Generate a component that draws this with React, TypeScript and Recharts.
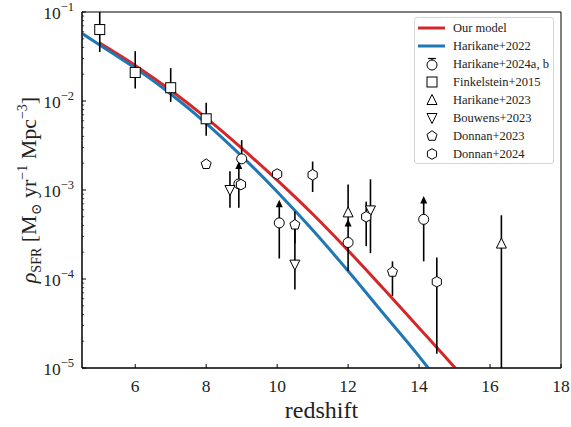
import React from "react";
import {
  ComposedChart,
  Line,
  Scatter,
  XAxis,
  YAxis,
  ErrorBar,
  Legend,
  ReferenceArea,
} from "recharts";

const FONT = '"Liberation Serif", "DejaVu Serif", serif';
const RED = "#d62728";
const BLUE = "#1f77b4";

// model curves (redshift, SFR density)
const MODEL_Z = [5, 6, 7, 8, 9, 10, 11, 12, 13, 14, 15, 15.2];
const MODEL_SFRD = [4.47e-2, 2.51e-2, 1.32e-2, 6.46e-3, 2.95e-3, 1.29e-3, 5.37e-4, 2.09e-4, 7.76e-5, 2.82e-5, 1.02e-5, 8.3e-6];
const H22_Z = [4.5, 5, 6, 7, 8, 9, 10, 11, 12, 13, 14, 14.4];
const H22_SFRD = [5.75e-2, 4.27e-2, 2.34e-2, 1.2e-2, 5.62e-3, 2.4e-3, 9.55e-4, 3.55e-4, 1.23e-4, 4.07e-5, 1.35e-5, 8.5e-6];

// observations: value, lower end, upper end of the error bar
const H24_Z = [9.0, 8.92, 10.06, 12.0, 14.13];
const H24_V = [2.24e-3, 1.17e-3, 4.27e-4, 2.57e-4, 4.68e-4];
const H24_LO = [2.24e-3, 6.3e-4, 1.7e-4, 1.23e-4, 1.58e-4];
const H24_HI = [3.63e-3, 1.86e-3, 6.9e-4, 4.2e-4, 7.6e-4];
const H24_LOLIM = [false, true, true, true, true];

const F15_Z = [5, 6, 7, 8];
const F15_V = [6.35e-2, 2.09e-2, 1.41e-2, 6.31e-3];
const F15_LO = [3.55e-2, 1.38e-2, 9.77e-3, 4.07e-3];
const F15_HI = [0.1, 3.63e-2, 2.34e-2, 9.55e-3];

const H23_Z = [12.0, 16.32];
const H23_V = [5.6e-4, 2.5e-4];
const H23_LO = [3.9e-4, 1e-5];
const H23_HI = [1.15e-3, 5.2e-4];

const B23_Z = [8.67, 10.5, 12.63];
const B23_V = [1.0e-3, 1.45e-4, 5.9e-4];
const B23_LO = [6.3e-4, 7.6e-5, 1.95e-4];
const B23_HI = [1.62e-3, 4.07e-4, 1.32e-3];

const D23_Z = [8.0, 10.5, 13.25];
const D23_V = [1.95e-3, 4.07e-4, 1.2e-4];
const D23_LO = [1.95e-3, 2.5e-4, 6.46e-5];
const D23_HI = [1.95e-3, 5.75e-4, 1.58e-4];

const D24_Z = [8.98, 10.0, 11.0, 12.51, 14.5];
const D24_V = [1.15e-3, 1.51e-3, 1.48e-3, 5.0e-4, 9.3e-5];
const D24_LO = [1.15e-3, 1.51e-3, 9.5e-4, 2.34e-4, 1.45e-5];
const D24_HI = [1.15e-3, 1.51e-3, 2.09e-3, 7.4e-4, 1.74e-4];

const X_TICKS = [6, 8, 10, 12, 14, 16, 18];
const Y_MAJOR = [1e-5, 1e-4, 1e-3, 1e-2, 1e-1];
const Y_MINOR_MULT = [2, 3, 4, 5, 6, 7, 8, 9];
const Y_TICKS = [
  ...Y_MAJOR,
  ...Y_MAJOR.slice(0, -1).flatMap((m) => Y_MINOR_MULT.map((k) => k * m)),
];

const LEGEND = [
  { name: "Our model", kind: "line", color: RED },
  { name: "Harikane+2022", kind: "line", color: BLUE },
  { name: "Harikane+2024a, b", kind: "circleLim" },
  { name: "Finkelstein+2015", kind: "square" },
  { name: "Harikane+2023", kind: "triUp" },
  { name: "Bouwens+2023", kind: "triDown" },
  { name: "Donnan+2023", kind: "pentagon" },
  { name: "Donnan+2024", kind: "hexagon" },
];

const toLine = (zs: number[], vs: number[]) => zs.map((z, i) => ({ z, v: vs[i] }));
const toPoints = (zs: number[], vs: number[], lo: number[], hi: number[]) =>
  zs.map((z, i) => ({ z, v: vs[i], err: [vs[i] - lo[i], hi[i] - vs[i]] }));

const modelData = toLine(MODEL_Z, MODEL_SFRD);
const h22Data = toLine(H22_Z, H22_SFRD);
const h24Data = toPoints(H24_Z, H24_V, H24_LO, H24_HI);
const f15Data = toPoints(F15_Z, F15_V, F15_LO, F15_HI);
const h23Data = toPoints(H23_Z, H23_V, H23_LO, H23_HI);
const b23Data = toPoints(B23_Z, B23_V, B23_LO, B23_HI);
const d23Data = toPoints(D23_Z, D23_V, D23_LO, D23_HI);
const d24Data = toPoints(D24_Z, D24_V, D24_LO, D24_HI);
const arrowData = H24_Z.map((z, i) => ({ z, v: H24_HI[i] })).filter((_, i) => H24_LOLIM[i]);

const poly = (cx: number, cy: number, r: number, n: number) =>
  Array.from({ length: n }, (_, k) => {
    const a = (2 * Math.PI * k) / n;
    return `${cx + r * Math.sin(a)},${cy - r * Math.cos(a)}`;
  }).join(" ");

function Marker({ kind, cx, cy }: { kind: string; cx: number; cy: number }) {
  const s = { fill: "#fff", stroke: "#000", strokeWidth: 1 };
  switch (kind) {
    case "circle":
      return <circle cx={cx} cy={cy} r={5} {...s} />;
    case "square":
      return <rect x={cx - 5} y={cy - 5} width={10} height={10} {...s} />;
    case "triUp":
      return <polygon points={`${cx},${cy - 5.5} ${cx + 5},${cy + 4.5} ${cx - 5},${cy + 4.5}`} {...s} />;
    case "triDown":
      return <polygon points={`${cx},${cy + 5.5} ${cx + 5},${cy - 4.5} ${cx - 5},${cy - 4.5}`} {...s} />;
    case "pentagon":
      return <polygon points={poly(cx, cy, 5.3, 5)} {...s} />;
    case "hexagon":
      return <polygon points={poly(cx, cy, 5.3, 6)} {...s} />;
    case "arrow":
      return <polygon points={`${cx},${cy - 4.5} ${cx + 3.5},${cy + 3} ${cx - 3.5},${cy + 3}`} fill="#000" />;
    default:
      return null;
  }
}

const shapeOf = (kind: string) => (p: any) => <Marker kind={kind} cx={p.cx} cy={p.cy} />;

function XTick(props: any) {
  const { x, y, payload } = props;
  return (
    <g>
      <line x1={x} x2={x} y1={y} y2={y - 4} stroke="#000" strokeWidth={1} />
      <text x={x} y={y + 24} textAnchor="middle" fontFamily={FONT} fontSize={17.5} fill="#222">
        {payload.value}
      </text>
    </g>
  );
}

function YTick(props: any) {
  const { x, y, payload } = props;
  const lg = Math.log10(payload.value);
  const exp = Math.round(lg);
  const major = Math.abs(lg - exp) < 1e-6;
  return (
    <g>
      <line x1={x} x2={x + (major ? 4 : 2.2)} y1={y} y2={y} stroke="#000" strokeWidth={major ? 1 : 0.7} />
      {major && (
        <text x={x - 8} y={y + 7} textAnchor="end" fontFamily={FONT} fontSize={17.5} fill="#222">
          <tspan>10</tspan>
          <tspan dy={-8} fontSize={12.5}>{`\u2212${-exp}`}</tspan>
        </text>
      )}
    </g>
  );
}

function XLabel(props: any) {
  const vb = props.viewBox || { x: 82, y: 368, width: 479, height: 59 };
  return (
    <text x={vb.x + vb.width / 2} y={vb.y + 50} textAnchor="middle" fontFamily={FONT} fontSize={24} fill="#222">
      redshift
    </text>
  );
}

function YLabel(props: any) {
  const vb = props.viewBox || { x: 0, y: 12, width: 82, height: 356 };
  const cy = vb.y + vb.height / 2;
  return (
    <text
      transform={`rotate(-90)`}
      x={-cy}
      y={36}
      textAnchor="middle"
      fontFamily={FONT}
      fontSize={22}
      fill="#222"
    >
      <tspan fontStyle="italic">ρ</tspan>
      <tspan fontSize={14} dy={5}>SFR</tspan>
      <tspan dy={-5}>{" [M"}</tspan>
      <tspan fontSize={14} dy={5}>⊙</tspan>
      <tspan dy={-5}>{" yr"}</tspan>
      <tspan fontSize={14} dy={-9}>{"\u22121"}</tspan>
      <tspan dy={9}>{" Mpc"}</tspan>
      <tspan fontSize={14} dy={-9}>{"\u22123"}</tspan>
      <tspan dy={9}>]</tspan>
    </text>
  );
}

function LegendIcon({ kind, color }: { kind: string; color?: string }) {
  return (
    <svg width={34} height={18} style={{ display: "block" }}>
      {kind === "line" && <line x1={3} x2={30} y1={9} y2={9} stroke={color} strokeWidth={3} />}
      {kind === "circleLim" && (
        <g>
          <line x1={13} x2={21} y1={3.5} y2={3.5} stroke="#000" strokeWidth={1.2} />
          <line x1={17} x2={17} y1={3.5} y2={14.5} stroke="#000" strokeWidth={1.2} />
          <Marker kind="circle" cx={17} cy={10} />
        </g>
      )}
      {kind !== "line" && kind !== "circleLim" && <Marker kind={kind} cx={17} cy={9} />}
    </svg>
  );
}

function LegendBox() {
  return (
    <div
      style={{
        border: "1px solid #d5d5d5",
        borderRadius: 3,
        background: "rgba(255,255,255,0.8)",
        padding: "1px 0 0 0",
        width: 140,
        height: 147,
        boxSizing: "border-box",
      }}
    >
      {LEGEND.map((item) => (
        <div key={item.name} style={{ display: "flex", alignItems: "center", height: 18 }}>
          <LegendIcon kind={item.kind} color={item.color} />
          <span
            style={{
              marginLeft: 4,
              fontFamily: FONT,
              fontSize: 12.5,
              color: "#222",
              whiteSpace: "nowrap",
              lineHeight: "18px",
            }}
          >
            {item.name}
          </span>
        </div>
      ))}
    </div>
  );
}

const errBar = <ErrorBar dataKey="err" direction="y" width={0} stroke="#000" strokeWidth={1.6} />;

export default function App() {
  return (
    <div style={{ position: "absolute", left: 0, top: 0, background: "#fff" }}>
      <ComposedChart width={571} height={427} margin={{ top: 12, right: 10, bottom: 0, left: 0 }}>
        <XAxis
          type="number"
          dataKey="z"
          domain={[4.5, 18]}
          ticks={X_TICKS}
          interval={0}
          allowDataOverflow
          tickSize={0}
          tickMargin={0}
          tickLine={false}
          tick={<XTick />}
          axisLine={{ stroke: "#000", strokeWidth: 1 }}
          height={59}
          label={<XLabel />}
        />
        <YAxis
          type="number"
          dataKey="v"
          scale="log"
          domain={[1e-5, 0.1]}
          ticks={Y_TICKS}
          interval={0}
          allowDataOverflow
          tickSize={0}
          tickMargin={0}
          tickLine={false}
          tick={<YTick />}
          axisLine={{ stroke: "#000", strokeWidth: 1 }}
          width={82}
          label={<YLabel />}
        />
        <Line data={modelData} dataKey="v" type="monotone" stroke={RED} strokeWidth={3} dot={false} isAnimationActive={false} />
        <Line data={h22Data} dataKey="v" type="monotone" stroke={BLUE} strokeWidth={3} dot={false} isAnimationActive={false} />
        <Scatter data={h24Data} dataKey="v" shape={shapeOf("circle")} isAnimationActive={false}>
          {errBar}
        </Scatter>
        <Scatter data={f15Data} dataKey="v" shape={shapeOf("square")} isAnimationActive={false}>
          {errBar}
        </Scatter>
        <Scatter data={h23Data} dataKey="v" shape={shapeOf("triUp")} isAnimationActive={false}>
          {errBar}
        </Scatter>
        <Scatter data={b23Data} dataKey="v" shape={shapeOf("triDown")} isAnimationActive={false}>
          {errBar}
        </Scatter>
        <Scatter data={d23Data} dataKey="v" shape={shapeOf("pentagon")} isAnimationActive={false}>
          {errBar}
        </Scatter>
        <Scatter data={d24Data} dataKey="v" shape={shapeOf("hexagon")} isAnimationActive={false}>
          {errBar}
        </Scatter>
        <Scatter data={arrowData} dataKey="v" shape={shapeOf("arrow")} isAnimationActive={false} />
        <ReferenceArea x1={4.5} x2={18} y1={1e-5} y2={0.1} fill="none" stroke="#000" strokeWidth={1} />
        <Legend
          layout="vertical"
          align="center"
          verticalAlign="middle"
          wrapperStyle={{ left: 414, top: 17, width: 140, height: 147 }}
          content={() => <LegendBox />}
        />
      </ComposedChart>
    </div>
  );
}
